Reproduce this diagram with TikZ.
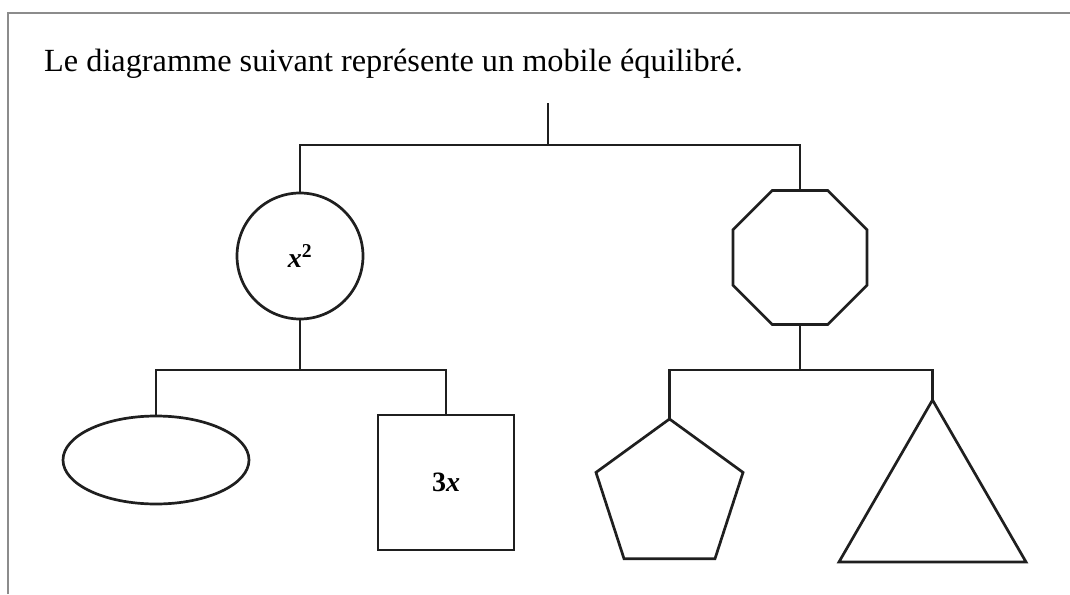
\documentclass[tikz,border=0pt]{standalone}
\usepackage{fontspec}
\setmainfont{Liberation Serif}
\usetikzlibrary{shapes.geometric}
\begin{document}
\begin{tikzpicture}[x=1pt,y=-1pt,
  obj/.style={draw=black!88, line width=2.7pt, inner sep=0pt, outer sep=0pt},
  wire/.style={draw=black!88, line width=2.7pt},
  lbl/.style={font=\fontsize{28}{30}\selectfont\bfseries}
]
\useasboundingbox (0,0) rectangle (1070,594);
% frame
\draw[line width=2pt, draw=black!45] (8,594) -- (8,13) -- (1070,13);
% title
\node[anchor=base west, inner sep=0pt, font=\fontsize{32.3}{36}\selectfont] (title) at (44,71) {Le diagramme suivant représente un mobile équilibré.};
% objects
\node[obj, circle, minimum size=126pt] (circ) at (300,256) {};
\node[lbl] (circlbl) at (300,256) {\textit{x}\textsuperscript{2}};
\node[obj, regular polygon, regular polygon sides=8, minimum size=145pt] (oct) at (800,257.5) {};
\node[obj, ellipse, minimum width=186pt, minimum height=88pt] (ell) at (156,460) {};
\node[obj, rectangle, minimum width=136pt, minimum height=135pt] (sq) at (446,482.5) {};
\node[lbl] (sqlbl) at (446,482.5) {3\textit{x}};
\node[obj, regular polygon, regular polygon sides=5, minimum size=154.6pt] (pent) at (669.5,496.3) {};
\node[obj, regular polygon, regular polygon sides=3, minimum size=216pt] (tri) at (932.5,508) {};
% hangers
\coordinate (top) at (548,103);
\coordinate (bar1) at (548,145);
\coordinate (bar2) at (300,370);
\coordinate (bar3) at (800,370);
\draw[wire] (top) -- (bar1);
\draw[wire] (circ.north) |- (bar1) -| (oct.north);
\draw[wire] (circ.south) -- (bar2);
\draw[wire] (ell.north) |- (bar2) -| (sq.north);
\draw[wire] (oct.south) -- (bar3);
\draw[wire] (pent.north) |- (bar3) -| (tri.north);
\end{tikzpicture}
\end{document}
